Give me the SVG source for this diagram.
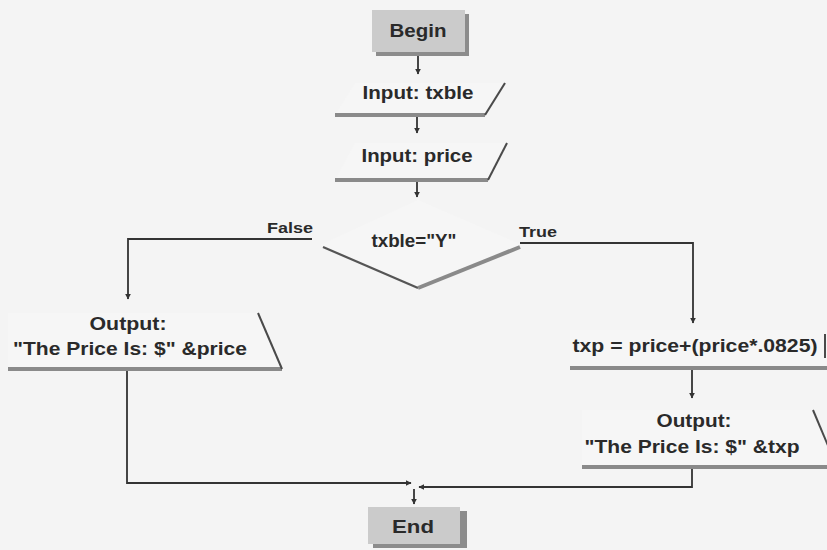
<svg xmlns="http://www.w3.org/2000/svg" width="827" height="550" viewBox="0 0 827 550">
<style>
.t{font-family:"Liberation Sans",Arial,sans-serif;font-weight:bold;font-size:18px;fill:#2a2a2a}
.ts{font-family:"Liberation Sans",Arial,sans-serif;font-weight:bold;font-size:15px;fill:#2a2a2a}
.term{fill:#cbcbcb}
.shadow{fill:#8c8c8c}
.body{fill:#f6f6f6;stroke:none}
.base{stroke:#8a8a8a;stroke-width:4;fill:none}
.edge{stroke:#4a4a4a;stroke-width:2;fill:none}
.conn{stroke:#333;stroke-width:1.8;fill:none;marker-end:url(#ah)}
</style>
<defs>
<marker id="ah" viewBox="0 0 10 10" refX="9" refY="5" markerWidth="6" markerHeight="6" orient="auto" markerUnits="userSpaceOnUse">
<path d="M0,0 L10,5 L0,10 z" fill="#333"/>
</marker>
</defs>
<rect x="0" y="0" width="827" height="550" fill="#f4f4f4"/>

<g id="begin">
<rect class="shadow" x="376" y="14" width="93" height="42"/>
<rect class="term" x="372" y="10" width="93" height="42"/>
<text class="t" x="418" y="37" text-anchor="middle" textLength="57" lengthAdjust="spacingAndGlyphs">Begin</text>
</g>

<g id="input_txble">
<polygon class="body" points="355,83 505,83 485,115 335,115"/>
<line class="base" x1="335" y1="115" x2="485" y2="115"/>
<line class="edge" x1="485" y1="115" x2="505" y2="83"/>
<text class="t" x="418" y="99" text-anchor="middle" textLength="111" lengthAdjust="spacingAndGlyphs">Input: txble</text>
</g>

<g id="input_price">
<polygon class="body" points="355,143 507,143 488,180 335,180"/>
<line class="base" x1="335" y1="180" x2="488" y2="180"/>
<line class="edge" x1="488" y1="180" x2="507" y2="143"/>
<text class="t" x="417" y="162" text-anchor="middle" textLength="111" lengthAdjust="spacingAndGlyphs">Input: price</text>
</g>

<g id="decision">
<polygon class="body" points="418,200 522,245 418,289 320,245"/>
<polyline points="323,247 418,288" stroke="#555" stroke-width="2.2" fill="none"/>
<polyline points="418,288 520,247" stroke="#8a8a8a" stroke-width="4" fill="none"/>
<text class="t" x="414" y="247" text-anchor="middle" textLength="85" lengthAdjust="spacingAndGlyphs">txble="Y"</text>
</g>

<g id="output_price">
<polygon class="body" points="8,313 258,313 282,369 8,369"/>
<line class="base" x1="8" y1="369" x2="282" y2="369"/>
<line class="edge" x1="258" y1="313" x2="282" y2="369"/>
<text class="t" x="128" y="330" text-anchor="middle" textLength="77" lengthAdjust="spacingAndGlyphs">Output:</text>
<text class="t" x="130" y="355" text-anchor="middle" textLength="234" lengthAdjust="spacingAndGlyphs">"The Price Is: $" &amp;price</text>
</g>

<g id="calc_txp">
<rect class="body" x="570" y="330" width="257" height="38"/>
<line class="base" x1="570" y1="368" x2="827" y2="368"/>
<line class="edge" x1="825" y1="334" x2="825" y2="358" stroke-width="1.5"/>
<text class="t" x="695" y="352" text-anchor="middle" textLength="245" lengthAdjust="spacingAndGlyphs">txp = price+(price*.0825)</text>
</g>

<g id="output_txp">
<polygon class="body" points="582,410 813,410 837,467 582,467"/>
<line class="base" x1="582" y1="467" x2="827" y2="467"/>
<line class="edge" x1="813" y1="410" x2="837" y2="467"/>
<text class="t" x="694" y="427" text-anchor="middle" textLength="75" lengthAdjust="spacingAndGlyphs">Output:</text>
<text class="t" x="692" y="453" text-anchor="middle" textLength="215" lengthAdjust="spacingAndGlyphs">"The Price Is: $" &amp;txp</text>
</g>

<g id="end">
<rect class="shadow" x="373" y="511" width="94" height="37"/>
<rect class="term" x="368" y="507" width="92" height="37"/>
<text class="t" x="413" y="533" text-anchor="middle" textLength="42" lengthAdjust="spacingAndGlyphs">End</text>
</g>

<g id="connectors">
<line class="conn" x1="418" y1="56" x2="418" y2="74"/>
<line class="conn" x1="417" y1="117" x2="417" y2="133"/>
<line class="conn" x1="417" y1="182" x2="417" y2="197"/>
<polyline class="conn" points="312,239 128,239 128,299"/>
<polyline class="conn" points="520,243 693,243 693,323"/>
<line class="conn" x1="692" y1="370" x2="692" y2="398"/>
<polyline class="conn" points="127,371 127,483 411,483"/>
<polyline class="conn" points="692,469 692,487 419,487"/>
<line class="conn" x1="414" y1="489" x2="414" y2="504"/>
<text class="ts" x="290" y="233" text-anchor="middle" textLength="46" lengthAdjust="spacingAndGlyphs">False</text>
<text class="ts" x="538" y="237" text-anchor="middle" textLength="38" lengthAdjust="spacingAndGlyphs">True</text>
</g>
</svg>
